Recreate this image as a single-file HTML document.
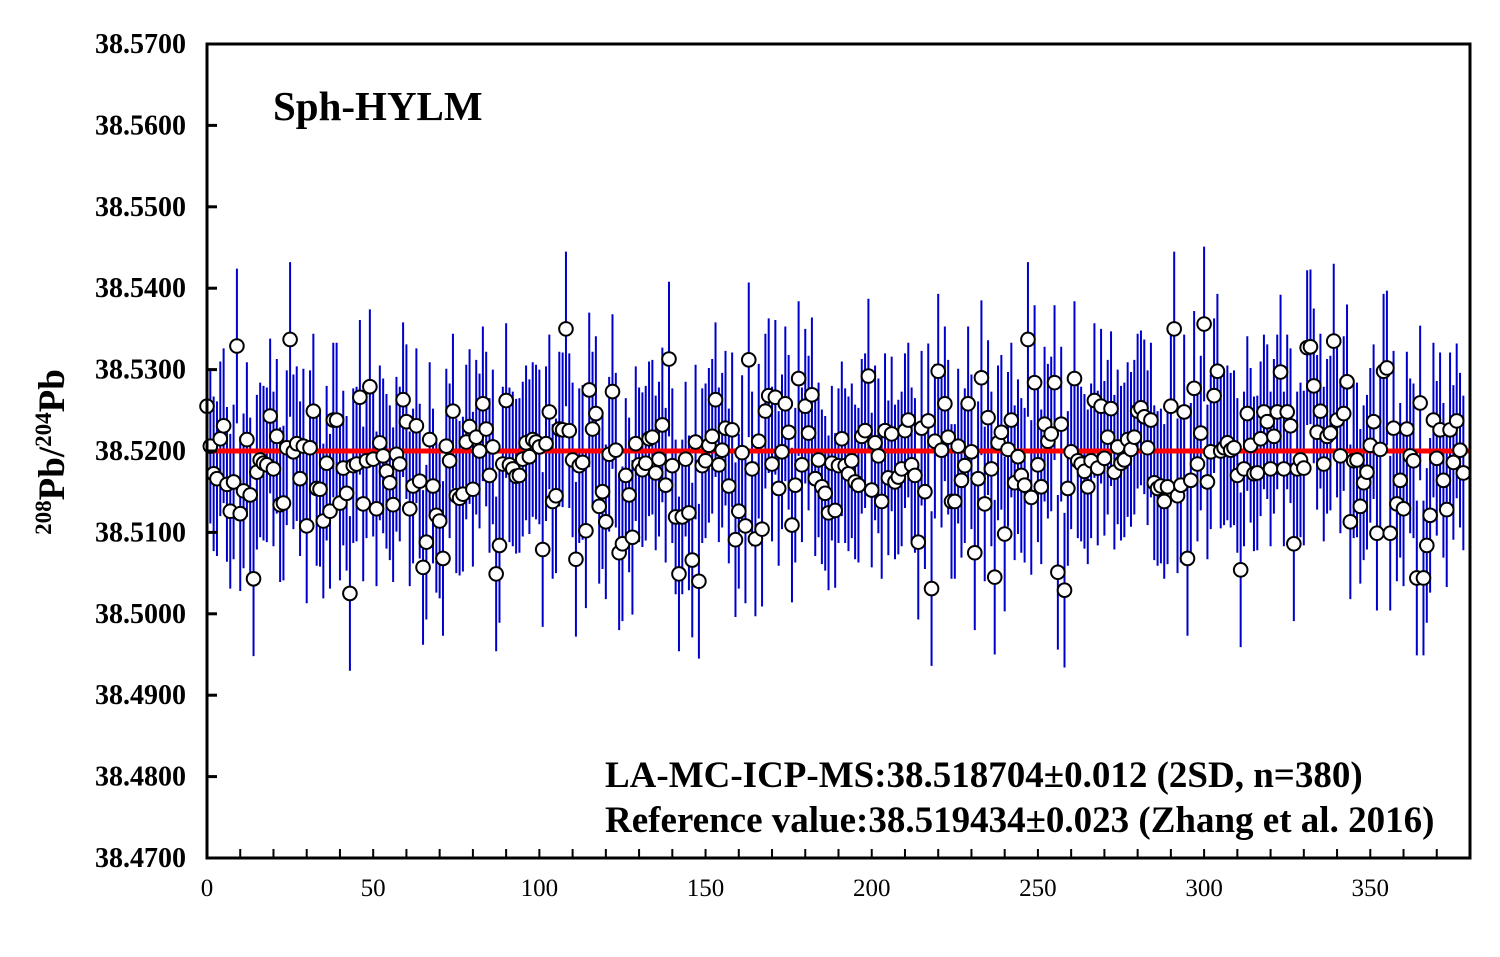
<!DOCTYPE html>
<html><head><meta charset="utf-8"><style>
html,body{margin:0;padding:0;background:#fff}
svg{display:block}
text{font-family:"Liberation Serif",serif}
</style></head><body>
<svg id="chart" width="1500" height="957" viewBox="0 0 1500 957" xmlns="http://www.w3.org/2000/svg">
<g id="grid"></g>
<g id="bars"></g>
<line id="ref" stroke="#ff0000" stroke-width="5"/>
<g id="pts"></g>
<rect x="207" y="44" width="1263" height="814" fill="none" stroke="#000" stroke-width="3"/>
<g id="axes"></g>
<text x="273" y="120" font-size="41" font-weight="bold">Sph-HYLM</text>
<text x="605" y="787" font-size="37" font-weight="bold">LA-MC-ICP-MS:38.518704±0.012 (2SD, n=380)</text>
<text x="605" y="832" font-size="37" font-weight="bold">Reference value:38.519434±0.023 (Zhang et al. 2016)</text>
<text transform="translate(64,452) rotate(-90)" text-anchor="middle" font-size="37" font-weight="bold"><tspan font-size="23" dy="-13">208</tspan><tspan dy="13">Pb/</tspan><tspan font-size="23" dy="-13">204</tspan><tspan dy="13">Pb</tspan></text>
</svg>
<script>
const yTicks = [38.47,38.48,38.49,38.50,38.51,38.52,38.53,38.54,38.55,38.56,38.57];
const xTicks = [0,50,100,150,200,250,300,350];
const refValue = 38.52;
const errHalf = 0.0095;
const ratios = [38.5255,38.5206,38.5172,38.5166,38.5215,38.5231,38.5159,38.5126,38.5162,38.5329,38.5123,38.5151,38.5214,38.5146,38.5043,38.5174,38.5189,38.5185,38.5183,38.5243,38.5178,38.5218,38.5134,38.5136,38.5204,38.5337,38.5199,38.5209,38.5166,38.5206,38.5108,38.5204,38.5249,38.5154,38.5153,38.5114,38.5185,38.5126,38.5238,38.5238,38.5136,38.5179,38.5148,38.5025,38.5182,38.5184,38.5266,38.5135,38.5188,38.5279,38.5190,38.5129,38.5210,38.5194,38.5175,38.5161,38.5134,38.5196,38.5184,38.5263,38.5236,38.5129,38.5157,38.5231,38.5163,38.5057,38.5088,38.5214,38.5157,38.5121,38.5114,38.5068,38.5206,38.5188,38.5249,38.5145,38.5142,38.5147,38.5211,38.5230,38.5153,38.5217,38.5200,38.5258,38.5227,38.5170,38.5205,38.5049,38.5084,38.5184,38.5262,38.5183,38.5178,38.5169,38.5170,38.5190,38.5210,38.5193,38.5214,38.5211,38.5205,38.5079,38.5209,38.5248,38.5138,38.5145,38.5227,38.5226,38.5350,38.5225,38.5189,38.5067,38.5182,38.5186,38.5102,38.5275,38.5227,38.5246,38.5132,38.5150,38.5113,38.5196,38.5273,38.5201,38.5075,38.5086,38.5170,38.5146,38.5094,38.5209,38.5183,38.5177,38.5185,38.5215,38.5217,38.5173,38.5190,38.5232,38.5158,38.5313,38.5182,38.5119,38.5049,38.5119,38.5190,38.5124,38.5066,38.5211,38.5040,38.5182,38.5188,38.5207,38.5218,38.5263,38.5183,38.5201,38.5228,38.5157,38.5226,38.5091,38.5126,38.5198,38.5108,38.5312,38.5178,38.5092,38.5212,38.5104,38.5249,38.5268,38.5184,38.5266,38.5154,38.5199,38.5258,38.5223,38.5109,38.5158,38.5289,38.5183,38.5255,38.5222,38.5269,38.5166,38.5189,38.5156,38.5148,38.5124,38.5185,38.5127,38.5182,38.5215,38.5182,38.5172,38.5188,38.5162,38.5158,38.5218,38.5225,38.5292,38.5152,38.5210,38.5194,38.5138,38.5225,38.5167,38.5221,38.5162,38.5168,38.5178,38.5225,38.5238,38.5183,38.5170,38.5088,38.5228,38.5150,38.5237,38.5031,38.5212,38.5298,38.5201,38.5258,38.5217,38.5138,38.5138,38.5206,38.5164,38.5182,38.5258,38.5199,38.5075,38.5166,38.5290,38.5135,38.5241,38.5178,38.5045,38.5210,38.5223,38.5098,38.5202,38.5238,38.5161,38.5193,38.5170,38.5158,38.5337,38.5143,38.5284,38.5183,38.5156,38.5233,38.5212,38.5221,38.5284,38.5051,38.5233,38.5029,38.5154,38.5199,38.5289,38.5188,38.5184,38.5175,38.5156,38.5188,38.5262,38.5179,38.5255,38.5191,38.5217,38.5252,38.5174,38.5205,38.5185,38.5189,38.5214,38.5202,38.5217,38.5249,38.5253,38.5242,38.5204,38.5238,38.5161,38.5154,38.5157,38.5138,38.5156,38.5255,38.5350,38.5145,38.5158,38.5248,38.5068,38.5164,38.5277,38.5184,38.5222,38.5356,38.5162,38.5199,38.5268,38.5298,38.5200,38.5204,38.5210,38.5201,38.5204,38.5170,38.5054,38.5178,38.5246,38.5207,38.5172,38.5173,38.5215,38.5248,38.5236,38.5178,38.5218,38.5248,38.5297,38.5178,38.5248,38.5231,38.5086,38.5178,38.5189,38.5179,38.5327,38.5328,38.5280,38.5223,38.5249,38.5184,38.5218,38.5222,38.5335,38.5238,38.5194,38.5246,38.5285,38.5113,38.5188,38.5189,38.5132,38.5161,38.5174,38.5207,38.5236,38.5099,38.5202,38.5298,38.5302,38.5099,38.5228,38.5135,38.5164,38.5129,38.5227,38.5194,38.5188,38.5044,38.5259,38.5044,38.5084,38.5121,38.5238,38.5191,38.5226,38.5164,38.5128,38.5226,38.5186,38.5237,38.5201,38.5173];

const NS='http://www.w3.org/2000/svg';
const X0=207,X1=1470,Y0=858,Y1=44,XMAX=380,YMIN=38.47,YMAX=38.57;
const xs=i=>X0+(i/XMAX)*(X1-X0);
const ys=v=>Y0-(v-YMIN)/(YMAX-YMIN)*(Y0-Y1);
function mk(tag,attrs,parent){const e=document.createElementNS(NS,tag);for(const k in attrs)e.setAttribute(k,attrs[k]);parent.appendChild(e);return e;}
const bars=document.getElementById('bars'),pts=document.getElementById('pts'),axes=document.getElementById('axes');
ratios.forEach((v,i)=>{
  const l=mk('line',{x1:xs(i),x2:xs(i),y1:ys(v+errHalf),y2:ys(v-errHalf),stroke:'#0000cc','stroke-width':2},bars);
  
  
});
ratios.forEach((v,i)=>{
  const c=mk('circle',{cx:xs(i),cy:ys(v),r:6.8,fill:'#fff',stroke:'#000','stroke-width':2},pts);
  
  
});
const ref=document.getElementById('ref');
ref.setAttribute('x1',X0);ref.setAttribute('x2',X1);ref.setAttribute('y1',ys(refValue));ref.setAttribute('y2',ys(refValue));
yTicks.forEach(t=>{
  const y=ys(t);
  const tk=mk('line',{x1:X0,x2:X0+10,y1:y,y2:y,stroke:'#000','stroke-width':3},axes);
  
  
  const tx=mk('text',{x:186,y:y+9,'text-anchor':'end','font-size':28,'font-weight':'bold'},axes);
  tx.textContent=t.toFixed(4);
  
  
});
for(let m=10;m<XMAX;m+=10){
  const x=xs(m);
  const tk=mk('line',{x1:x,x2:x,y1:Y0,y2:Y0-9,stroke:'#000','stroke-width':2},axes);
  
  
}
xTicks.forEach(t=>{
  const tx=mk('text',{x:xs(t),y:896,'text-anchor':'middle','font-size':25},axes);
  tx.textContent=t;
  
  
});
</script>
</body></html>
